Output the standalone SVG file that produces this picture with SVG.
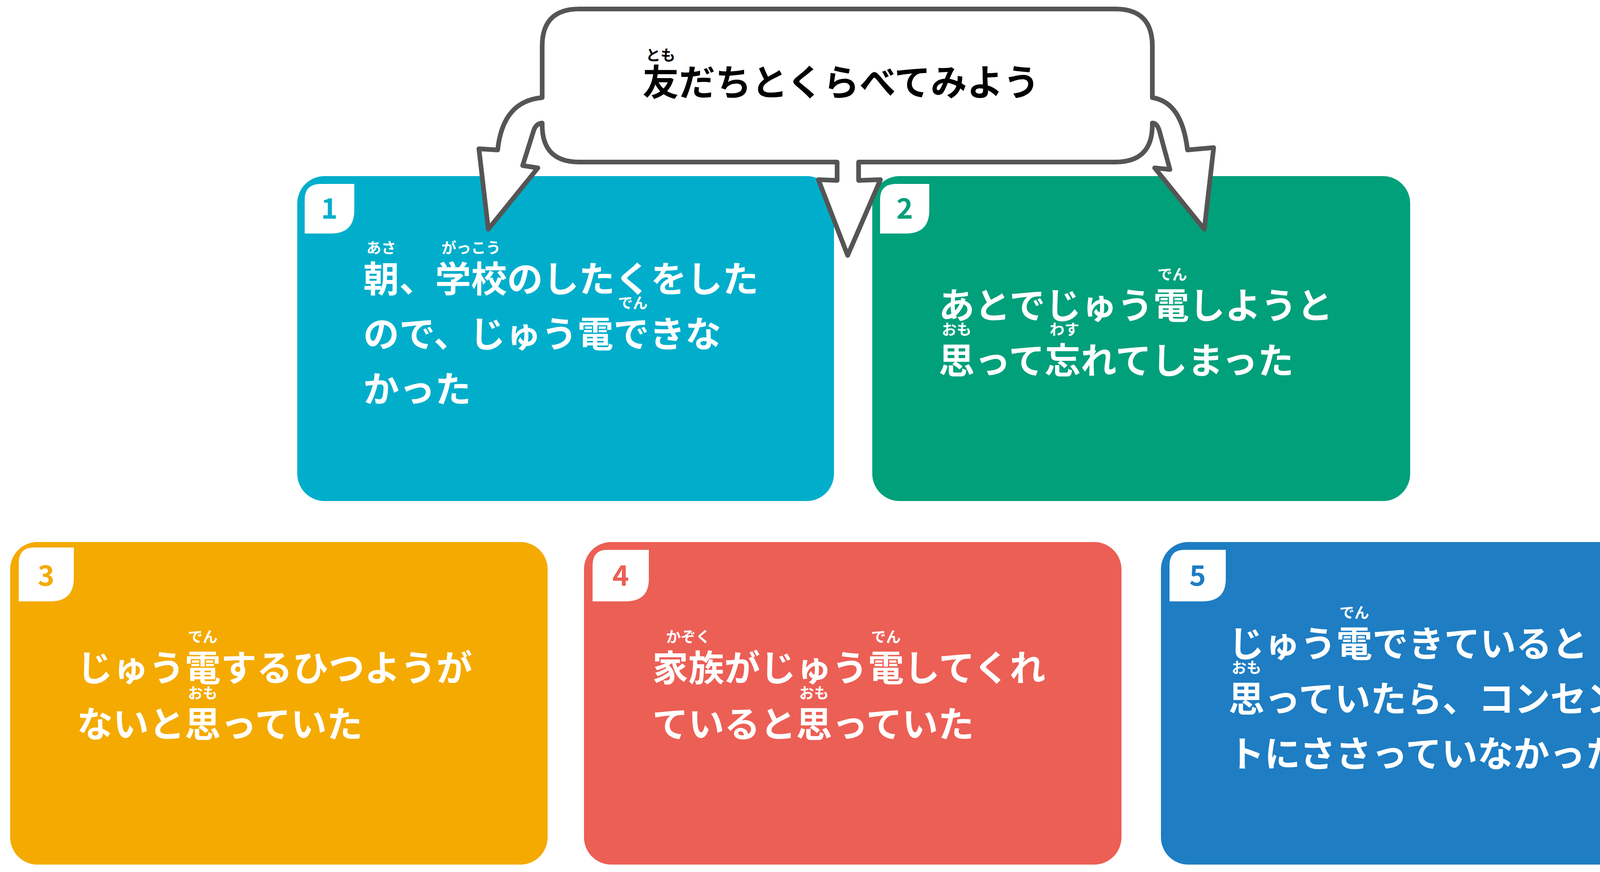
<svg xmlns="http://www.w3.org/2000/svg" width="4400" height="2233" viewBox="0 0 4400 2233">
<style>
text{font-family:"Noto Sans CJK JP","Noto Sans",sans-serif}
.t{font-size:92px;font-weight:700;fill:#fff}
.r{font-size:38px;font-weight:700;fill:#fff;text-anchor:middle}
.n{font-size:72px;font-weight:700;text-anchor:middle}
.tab{fill:#fff}
</style>
<rect width="4400" height="2233" fill="#fff"/>
<g id="card1">
<rect x="761" y="451" width="1374" height="832" rx="70" fill="#00AECB"/>
<path class="tab" d="M821,471 H907 V538 Q907,598 847,598 H780 V511 Q780,471 821,471 Z"/>
<text x="843" y="560" class="n" fill="#00AECB">1</text>
<text x="930" y="748" class="t">朝、学校のしたくをした</text>
<text x="930" y="889" class="t">ので、じゅう電できな</text>
<text x="930" y="1030" class="t">かった</text>
<text x="976" y="648" class="r">あさ</text>
<text x="1206" y="648" class="r">がっこう</text>
<text x="1620" y="789" class="r">でん</text>
</g>
<g id="card2">
<rect x="2233" y="451" width="1377" height="832" rx="70" fill="#00A07A"/>
<path class="tab" d="M2293,471 H2379 V538 Q2379,598 2319,598 H2253 V511 Q2253,471 2293,471 Z"/>
<text x="2316" y="560" class="n" fill="#00A07A">2</text>
<text x="2403" y="816" class="t">あとでじゅう電しようと</text>
<text x="2403" y="957" class="t">思って忘れてしまった</text>
<text x="3001" y="716" class="r">でん</text>
<text x="2449" y="857" class="r">おも</text>
<text x="2725" y="857" class="r">わす</text>
</g>
<g id="card3">
<rect x="26" y="1388" width="1376" height="826" rx="70" fill="#F4AA00"/>
<path class="tab" d="M86,1402 H189 V1480 Q189,1540 129,1540 H48 V1442 Q48,1402 86,1402 Z"/>
<text x="118" y="1500" class="n" fill="#F4AA00">3</text>
<text x="197" y="1744" class="t">じゅう電するひつようが</text>
<text x="197" y="1888" class="t">ないと思っていた</text>
<text x="519" y="1644" class="r">でん</text>
<text x="519" y="1788" class="r">おも</text>
</g>
<g id="card4">
<rect x="1495" y="1388" width="1376" height="826" rx="70" fill="#EC5F55"/>
<path class="tab" d="M1555,1408 H1661 V1483 Q1661,1540 1601,1540 H1517 V1448 Q1517,1408 1555,1408 Z"/>
<text x="1589" y="1500" class="n" fill="#EC5F55">4</text>
<text x="1670" y="1744" class="t">家族がじゅう電してくれ</text>
<text x="1670" y="1888" class="t">ていると思っていた</text>
<text x="1762" y="1644" class="r">かぞく</text>
<text x="2268" y="1644" class="r">でん</text>
<text x="2084" y="1788" class="r">おも</text>
</g>
<g id="card5">
<rect x="2972" y="1388" width="1374" height="826" rx="70" fill="#1E7DC3"/>
<path class="tab" d="M3032,1408 H3138 V1483 Q3138,1540 3078,1540 H2994 V1448 Q2994,1408 3032,1408 Z"/>
<text x="3066" y="1500" class="n" fill="#1E7DC3">5</text>
<text x="3145" y="1682" class="t">じゅう電できていると</text>
<text x="3145" y="1823" class="t">思っていたら、コンセン</text>
<text x="3145" y="1964" class="t">トにささっていなかった</text>
<text x="3467" y="1582" class="r">でん</text>
<text x="3191" y="1723" class="r">おも</text>
</g>
<g id="connectors">
<path d="M1483,23 H2855 Q2950,23 2950,118 V250 C3000,258 3030,300 3040,384 L3107,378 L3083,587 L2956,430 L2995,434 L2968,335 C2964,322 2958,315 2950,315 V320 Q2950,415 2855,415 H2198 V462 L2254,460 L2170,654 L2095,460 L2143,462 V415 H1483 Q1388,415 1388,320 V315 C1378,316 1370,322 1366,335 L1338,424 L1377,430 L1250,587 L1226,381 L1274,384 C1283,300 1320,256 1388,250 V118 Q1388,23 1483,23 Z" fill="#fff" stroke="#555" stroke-width="12" stroke-linejoin="round"/>
</g>
<g id="title">
<text x="1645" y="245" style="font-size:93px;font-weight:700;fill:#000">友だちとくらべてみよう</text>
<text x="1691" y="155" class="r" style="fill:#000">とも</text>
</g>
</svg>
